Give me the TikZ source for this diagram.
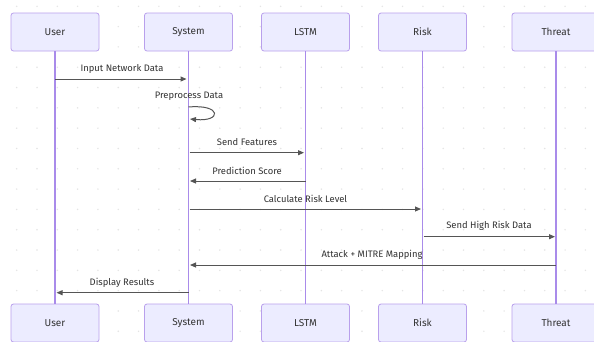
\documentclass[tikz,border=0pt]{standalone}
\usepackage{fontspec}
\setmainfont{Fira Sans}
\usetikzlibrary{arrows.meta}
\definecolor{boxfill}{HTML}{ECECFF}
\definecolor{boxline}{HTML}{B9A0EC}
\definecolor{lifeline}{HTML}{A98BEA}
\definecolor{msgline}{HTML}{555555}
\definecolor{txt}{HTML}{333333}
\definecolor{griddot}{HTML}{E4E4E4}
\tikzset{
  actor/.style={draw=boxline, fill=boxfill, line width=0.8pt, rounded corners=2.5pt,
    minimum width=88pt, minimum height=38pt, inner sep=0pt, text=txt, font=\fontsize{10}{12}\selectfont},
  life/.style={draw=lifeline, line width=1.3pt},
  msg/.style={draw=msgline, line width=1pt, -{Triangle[length=6pt,width=5pt]}},
  lbl/.style={text=txt, font=\fontsize{9.4}{11}\selectfont, inner sep=0pt}
}
\begin{document}
\begin{tikzpicture}[x=1pt,y=-1pt]
\useasboundingbox (0,0) rectangle (594,341);
\fill[white] (0,0) rectangle (594,341);
% dot grid
\foreach \i in {0,...,28} {
  \foreach \j in {0,...,16} {
    \fill[griddot] ({16.7+20.31*\i},{6.3+20.31*\j}) circle (0.8);
  }
}
% actors top
\node[actor] (u1) at (55,32) {User};
\node[actor] (s1) at (188.5,32) {System};
\node[actor] (l1) at (305.5,32) {LSTM};
\node[actor] (r1) at (422.5,32) {Risk};
\node[actor] (t1) at (556,32) {Threat};
% actors bottom
\node[actor] (u2) at (55,323) {User};
\node[actor] (s2) at (188.5,323) {System};
\node[actor] (l2) at (305.5,323) {LSTM};
\node[actor] (r2) at (422.5,323) {Risk};
\node[actor] (t2) at (556,323) {Threat};
% lifelines
\draw[life] (u1.south) -- (u2.north);
\draw[life] (s1.south) -- (s2.north);
\draw[life] (l1.south) -- (l2.north);
\draw[life] (r1.south) -- (r2.north);
\draw[life] (t1.south) -- (t2.north);
% message coordinates
\coordinate (uA) at (55,79);   \coordinate (sA) at (186.5,79);
\coordinate (sL0) at (188.5,107); \coordinate (sL1) at (190,119);
\coordinate (sB) at (189.5,152.7); \coordinate (lB) at (304,152.7);
\coordinate (lC) at (305.5,181); \coordinate (sC) at (190,181);
\coordinate (sD) at (189.5,209); \coordinate (rD) at (421,209);
\coordinate (rE) at (423.5,236.7); \coordinate (tE) at (555,236.7);
\coordinate (tF) at (556,265); \coordinate (sF) at (190,265);
\coordinate (sG) at (188.5,292.7); \coordinate (uG) at (56.5,292.7);
% messages
\draw[msg] (uA) -- (sA);
\node[lbl] (m1) at (122,69) {Input Network Data};
\draw[msg] (sL0) .. controls (222,104) and (222,122) .. (sL1);
\node[lbl] (m2) at (189,96.5) {Preprocess Data};
\draw[msg] (sB) -- (lB);
\node[lbl] (m3) at (247,142.5) {Send Features};
\draw[msg] (lC) -- (sC);
\node[lbl] (m4) at (247,170.5) {Prediction Score};
\draw[msg] (sD) -- (rD);
\node[lbl] (m5) at (305.5,198.5) {Calculate Risk Level};
\draw[msg] (rE) -- (tE);
\node[lbl] (m6) at (489,226) {Send High Risk Data};
\draw[msg] (tF) -- (sF);
\node[lbl] (m7) at (372,254.5) {Attack + MITRE Mapping};
\draw[msg] (sG) -- (uG);
\node[lbl] (m8) at (122,282.5) {Display Results};
\end{tikzpicture}
\end{document}
